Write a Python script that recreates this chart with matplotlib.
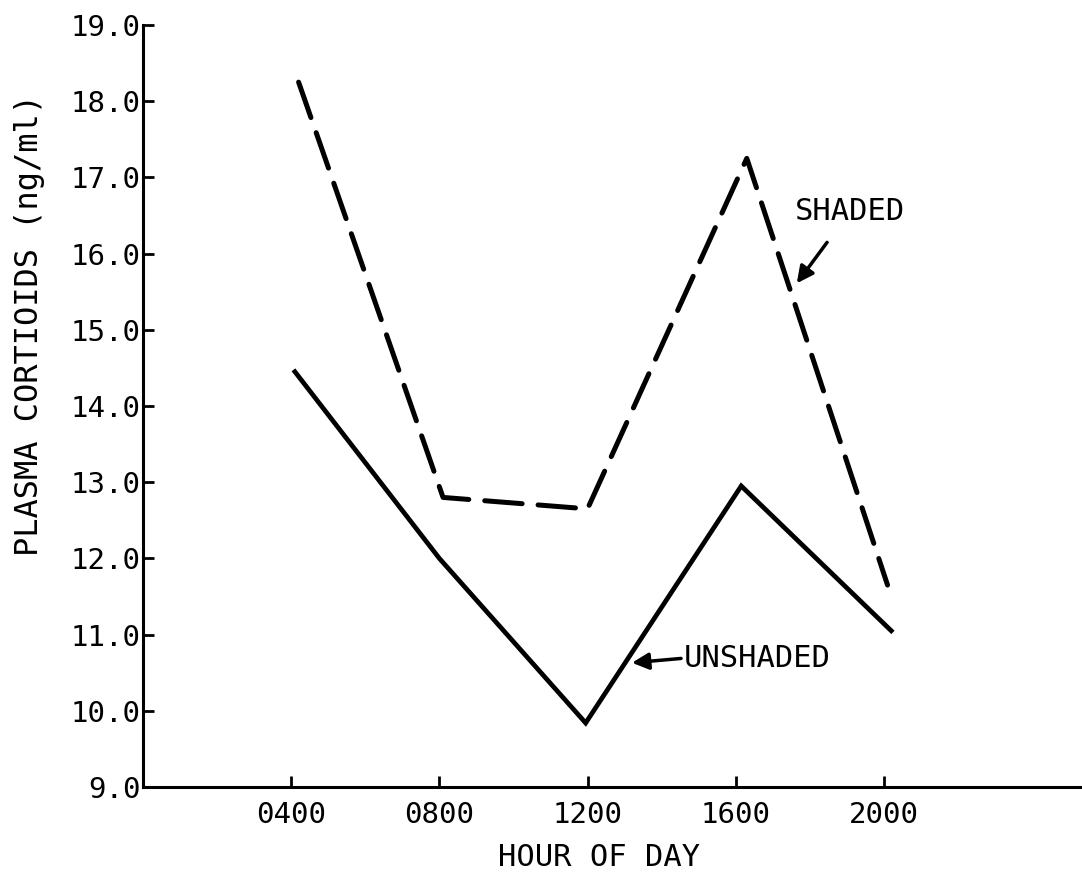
import matplotlib.pyplot as plt

# Plasma corticoid levels through the day, shaded vs unshaded animals
hours = [4.2, 8.1, 12.0, 16.3, 20.1]
shaded = [18.25, 12.8, 12.65, 17.25, 11.65]
hours_unshaded = [4.1, 8.0, 11.95, 16.15, 20.2]
unshaded = [14.45, 12.0, 9.84, 12.95, 11.05]

tick_hours = [4, 8, 12, 16, 20]
tick_labels = ["0400", "0800", "1200", "1600", "2000"]
y_ticks = [9, 10, 11, 12, 13, 14, 15, 16, 17, 18, 19]

plt.rcParams['font.family'] = ['DejaVu Sans Mono']

fig = plt.figure(figsize=(10.82, 8.8), dpi=100)
ax = fig.add_axes([0.1322, 0.1057, 0.8678, 0.8659])

ax.plot(hours, shaded, color='black', lw=3.6, linestyle=(0, (7.5, 3.2)),
        dash_capstyle='round', solid_joinstyle='miter')
ax.plot(hours_unshaded, unshaded, color='black', lw=3.4, solid_joinstyle='miter')

ax.set_xlim(0, 25.35)
ax.set_ylim(9, 19)

ax.spines['top'].set_visible(False)
ax.spines['right'].set_visible(False)
ax.spines['left'].set_linewidth(2.2)
ax.spines['bottom'].set_linewidth(2.2)

ax.set_xticks(tick_hours)
ax.set_xticklabels(tick_labels)
ax.set_yticks(y_ticks)
ax.set_yticklabels([f"{v:.1f}" for v in y_ticks])
ax.tick_params(axis='both', direction='in', length=8, width=2, labelsize=21)
ax.tick_params(axis='y', pad=2)
ax.tick_params(axis='x', pad=10)

ax.set_xlabel("HOUR OF DAY", fontsize=22)
ax.xaxis.set_label_coords(0.486, -0.074)
ax.set_ylabel("PLASMA CORTIOIDS (ng/ml)", fontsize=23)
ax.yaxis.set_label_coords(-0.104, 0.606)

ax.annotate("SHADED", xy=(17.65, 15.61), xytext=(17.6, 16.55),
            fontsize=22, ha='left', va='center',
            arrowprops=dict(arrowstyle='-|>', color='black', lw=2.5,
                            mutation_scale=25, shrinkA=12, shrinkB=0,
                            relpos=(0.4, 0.0)))
ax.annotate("UNSHADED", xy=(13.2, 10.63), xytext=(14.6, 10.69),
            fontsize=22, ha='left', va='center',
            arrowprops=dict(arrowstyle='-|>', color='black', lw=2.5,
                            mutation_scale=25, shrinkA=0, shrinkB=0,
                            relpos=(0.0, 0.5)))

fig.savefig("out.png", dpi=100)
